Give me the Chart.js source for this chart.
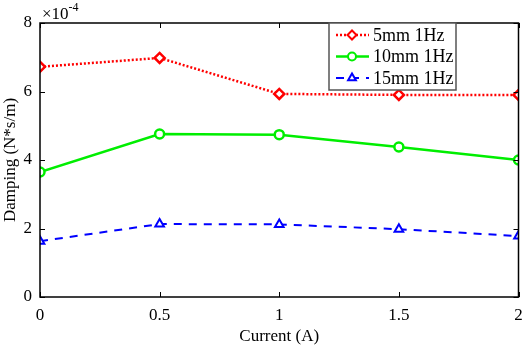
<!DOCTYPE html>
<html>
<head>
<meta charset="utf-8">
<script src="https://cdn.jsdelivr.net/npm/chart.js@4"></script>
<style>
  html, body { margin: 0; padding: 0; background: #fff; }
  #wrap { width: 526px; height: 348px; }
</style>
</head>
<body>
<div id="wrap"><canvas id="dampChart" width="526" height="348"></canvas></div>
<script>
// Current (A) on the x-axis
const currents = [0, 0.5, 1, 1.5, 2];
// Damping values, in units of 1e-4 N*s/m
const damping5mm = [6.72, 6.98, 5.93, 5.9, 5.9];
const damping10mm = [3.65, 4.76, 4.74, 4.38, 4.0];
const damping15mm = [1.63, 2.13, 2.12, 1.98, 1.78];
const xTicks = [0, 0.5, 1, 1.5, 2];
const yTicks = [0, 2, 4, 6, 8];
const seriesNames = ['5mm 1Hz', '10mm 1Hz', '15mm 1Hz'];

const FONT = 'Liberation Serif';

function toPoints(values) {
    return currents.map((c, i) => ({ x: c, y: values[i] }));
}

// Box, inward ticks, exponent label and legend
const framePlugin = {
    id: 'frame',
    afterDraw(chart) {
        const ctx = chart.ctx;
        const a = chart.chartArea;
        const xs = chart.scales.x;
        const ys = chart.scales.y;
        ctx.save();
        ctx.strokeStyle = '#000';
        ctx.lineWidth = 1;
        ctx.beginPath();
        xTicks.forEach(v => {
            const px = Math.round(xs.getPixelForValue(v)) + 0.5;
            ctx.moveTo(px, a.bottom); ctx.lineTo(px, a.bottom - 5);
            ctx.moveTo(px, a.top); ctx.lineTo(px, a.top + 5);
        });
        yTicks.forEach(v => {
            const py = Math.round(ys.getPixelForValue(v)) + 0.5;
            ctx.moveTo(a.left, py); ctx.lineTo(a.left + 5, py);
            ctx.moveTo(a.right, py); ctx.lineTo(a.right - 5, py);
        });
        ctx.stroke();
        ctx.lineWidth = 1.5;
        ctx.strokeRect(a.left, a.top, a.right - a.left, a.bottom - a.top);

        // exponent
        ctx.fillStyle = '#000';
        ctx.textBaseline = 'alphabetic';
        ctx.textAlign = 'left';
        ctx.font = '17px "' + FONT + '"';
        ctx.fillText('\u00d710', a.left + 2, 19);
        const w = ctx.measureText('\u00d710').width;
        ctx.font = '12px "' + FONT + '"';
        ctx.fillText('-4', a.left + 2 + w, 11);

        // legend
        const lx = 329, ly = 23, lw = 127, lh = 67;
        ctx.fillStyle = '#fff';
        ctx.fillRect(lx, ly, lw, lh);
        ctx.strokeStyle = '#555';
        ctx.lineWidth = 1.5;
        ctx.strokeRect(lx, ly, lw, lh);
        chart.data.datasets.forEach((ds, i) => {
            const y = ly + 12 + i * 21.5;
            ctx.strokeStyle = ds.borderColor;
            ctx.lineWidth = ds.borderWidth;
            ctx.setLineDash(ds.borderDash || []);
            ctx.beginPath();
            ctx.moveTo(lx + 7, y); ctx.lineTo(lx + 40, y);
            ctx.stroke();
            ctx.setLineDash([]);
            ctx.fillStyle = '#fff';
            ctx.lineWidth = 2;
            Chart.helpers.drawPoint(ctx, {
                pointStyle: ds.pointStyle, radius: ds.pointRadius - 0.5, borderWidth: 2
            }, lx + 23, y);
            ctx.fillStyle = '#000';
            ctx.font = '18px "' + FONT + '"';
            ctx.textBaseline = 'middle';
            ctx.fillText(ds.label, lx + 44, y + 1);
        });
        ctx.restore();
    }
};

new Chart(document.getElementById('dampChart'), {
    type: 'line',
    data: {
        datasets: [{
            label: seriesNames[0],
            data: toPoints(damping5mm),
            borderColor: '#ff0000',
            backgroundColor: '#fff',
            borderWidth: 2.5,
            borderDash: [2, 2],
            pointStyle: 'rectRot',
            pointRadius: 5,
            pointBorderWidth: 2.5
        }, {
            label: seriesNames[1],
            data: toPoints(damping10mm),
            borderColor: '#00ee00',
            backgroundColor: '#fff',
            borderWidth: 2.5,
            pointStyle: 'circle',
            pointRadius: 4.5,
            pointBorderWidth: 2.5
        }, {
            label: seriesNames[2],
            data: toPoints(damping15mm),
            borderColor: '#0000ff',
            backgroundColor: '#fff',
            borderWidth: 2,
            borderDash: [8, 7],
            pointStyle: 'triangle',
            pointRadius: 5,
            pointBorderWidth: 2
        }]
    },
    options: {
        responsive: false,
        animation: false,
        devicePixelRatio: 1,
        layout: { padding: { left: 0, right: 3, top: 23, bottom: 0 } },
        plugins: {
            legend: { display: false },
            tooltip: { enabled: false }
        },
        scales: {
            x: {
                type: 'linear',
                min: 0,
                max: 2,
                afterBuildTicks: s => { s.ticks = xTicks.map(v => ({ value: v })); },
                afterFit: s => { s.height = 51; s.paddingRight = 0; s.paddingLeft = 0; },
                grid: { display: false, drawTicks: false },
                border: { display: false },
                ticks: {
                    color: '#000',
                    padding: 8,
                    callback: v => String(v),
                    font: { family: FONT, size: 17 }
                },
                title: {
                    display: true,
                    text: 'Current (A)',
                    color: '#000',
                    padding: { top: 0, bottom: 1 },
                    font: { family: FONT, size: 17 }
                }
            },
            y: {
                min: 0,
                max: 8,
                afterBuildTicks: s => { s.ticks = yTicks.map(v => ({ value: v })); },
                afterFit: s => { s.width = 40; },
                grid: { display: false, drawTicks: false },
                border: { display: false },
                ticks: {
                    color: '#000',
                    padding: 8,
                    callback: v => String(v),
                    font: { family: FONT, size: 17 }
                },
                title: {
                    display: true,
                    text: 'Damping (N*s/m)',
                    color: '#000',
                    padding: 0,
                    font: { family: FONT, size: 17 }
                }
            }
        }
    },
    plugins: [framePlugin]
});
</script>
</body>
</html>
